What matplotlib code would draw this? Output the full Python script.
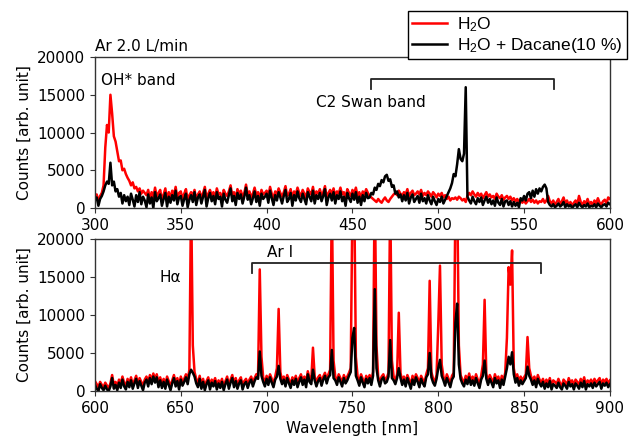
import numpy as np
import matplotlib
matplotlib.use("Agg")
import matplotlib.pyplot as plt

# ---------------- data (counts in units of 100) ----------------
top_wl = np.arange(300, 601)  # nm, 1 nm step
top_h2o = [
    15, 18, 8, 16, 20, 30, 80, 110, 100, 150,
    125, 95, 88, 75, 62, 63, 50, 52, 45, 40,
    36, 30, 34, 26, 28, 22, 26, 19, 23, 20,
    17, 24, 12, 21, 14, 27, 15, 20, 24, 10,
    18, 26, 10, 21, 13, 23, 17, 28, 13, 20,
    22, 12, 19, 25, 10, 17, 21, 16, 24, 11,
    18, 22, 13, 20, 28, 12, 19, 24, 17, 21,
    13, 26, 18, 20, 10, 24, 19, 16, 22, 30,
    16, 21, 12, 25, 19, 23, 15, 20, 31, 18,
    22, 14, 19, 27, 17, 21, 11, 24, 18, 20,
    23, 15, 28, 19, 13, 22, 18, 26, 20, 15,
    21, 29, 16, 19, 25, 12, 22, 18, 27, 20,
    16, 24, 19, 14, 26, 21, 18, 28, 15, 22,
    19, 25, 17, 21, 29, 13, 20, 24, 18, 26,
    15, 22, 19, 27, 18, 21, 12, 25, 20, 16,
    24, 19, 27, 16, 21, 13, 22, 18, 25, 20,
    16, 14, 12, 10, 8, 12, 9, 7, 11, 14,
    10, 8, 12, 15, 18, 20, 17, 23, 19, 16,
    21, 18, 25, 16, 20, 23, 17, 19, 22, 18,
    24, 16, 20, 17, 22, 19, 15, 21, 18, 14,
    19, 16, 20, 14, 17, 12, 15, 10, 13, 12,
    14, 11, 15, 13, 10, 12, 8, 16, 20, 17,
    22, 18, 15, 20, 16, 19, 13, 17, 21, 15,
    18, 14, 16, 12, 19, 15, 13, 17, 11, 14,
    16, 12, 15, 10, 13, 9, 12, 8, 11, 7,
    10, 6, 9, 12, 8, 11, 7, 10, 6, 9,
    8, 12, 7, 10, 16, 9, 6, 10, 4, 8,
    12, 5, 9, 14, 6, 10, 4, 8, 3, 7,
    10, 5, 16, 8, 4, 9, 6, 12, 5, 8,
    4, 10, 6, 13, 7, 5, 9, 11, 6, 14,
    12,
]
top_mix = [
    10, 14, 3, 12, 16, 22, 30, 35, 32, 60,
    30, 35, 22, 25, 15, 20, 6, 17, 9, 15,
    4, 19, 11, 2, 17, 8, 21, 5, 15, 10,
    1, 18, 6, 14, 0, 21, 9, 13, 18, 3,
    12, 20, 2, 15, 7, 17, 10, 23, 5, 14,
    16, 3, 12, 19, 1, 11, 17, 8, 21, 4,
    14, 18, 6, 15, 24, 2, 13, 20, 9, 16,
    5, 21, 12, 15, 2, 19, 11, 7, 17, 26,
    9, 16, 4, 20, 12, 18, 6, 15, 27, 11,
    17, 5, 13, 22, 8, 16, 3, 19, 12, 15,
    19, 7, 23, 13, 4, 17, 10, 21, 14, 6,
    16, 24, 8, 12, 20, 3, 17, 10, 22, 13,
    8, 19, 12, 5, 21, 15, 9, 23, 6, 17,
    12, 20, 9, 16, 25, 4, 14, 19, 10, 21,
    6, 17, 12, 22, 9, 15, 3, 20, 13, 8,
    19, 11, 21, 7, 15, 4, 17, 9, 20, 13,
    14, 20, 18, 27, 24, 32, 29, 37, 34, 42,
    44, 36, 38, 28, 30, 19, 22, 14, 18, 9,
    17, 10, 20, 6, 14, 18, 8, 12, 16, 7,
    19, 9, 13, 6, 17, 10, 5, 15, 9, 4,
    12, 8, 15, 6, 11, 16, 21, 26, 33, 45,
    42, 58, 78, 65, 62, 72, 160, 15, 10, 6,
    15, 9, 5, 13, 8, 14, 4, 10, 15, 7,
    12, 5, 10, 3, 14, 7, 4, 12, 2, 9,
    10, 4, 9, 2, 8, 3, 7, 1, 13, 10,
    16, 10, 19, 21, 13, 23, 15, 25, 19, 26,
    22, 28, 31, 26, 8, 4, 2, 5, 1, 3,
    6, 2, 4, 8, 1, 5, 2, 4, 0, 3,
    5, 1, 7, 3, 1, 4, 2, 6, 1, 3,
    2, 5, 1, 6, 3, 1, 4, 5, 2, 7,
    5,
]

bot_wl = np.arange(600, 901)
bot_h2o = [
    13, 9, 5, 12, 8, 5, 11, 7, 4, 10,
    21, 8, 12, 6, 15, 9, 19, 11, 7, 16,
    10, 18, 8, 14, 20, 9, 17, 12, 7, 15,
    19, 11, 21, 14, 23, 16, 22, 10, 18, 9,
    16, 8, 19, 13, 6, 14, 21, 11, 17, 7,
    19, 12, 16, 22, 14, 28, 260, 60, 25, 16,
    10, 20, 8, 16, 6, 13, 18, 7, 15, 11,
    17, 7, 14, 9, 16, 6, 13, 19, 8, 15,
    21, 10, 17, 8, 14, 18, 7, 13, 16, 9,
    15, 19, 11, 17, 22, 20, 160, 45, 18, 11,
    20, 13, 22, 16, 10, 19, 30, 108, 25, 14,
    19, 11, 21, 15, 9, 18, 13, 20, 10, 17,
    22, 13, 19, 11, 26, 17, 14, 57, 19, 11,
    18, 21, 12, 19, 24, 15, 22, 28, 260, 40,
    19, 13, 22, 17, 11, 21, 15, 19, 24, 30,
    250, 270, 45, 19, 12, 22, 16, 10, 20, 15,
    21, 13, 25, 280, 60, 19, 11, 19, 22, 15,
    17, 24, 260, 40, 19, 14, 22, 103, 24, 13,
    19, 11, 21, 15, 8, 20, 13, 22, 17, 10,
    20, 15, 11, 22, 30, 145, 25, 16, 12, 21,
    87, 165, 35, 19, 12, 22, 16, 10, 20, 24,
    250, 270, 60, 21, 15, 11, 20, 14, 23, 13,
    19, 12, 22, 15, 9, 20, 35, 120, 22, 13,
    21, 16, 10, 22, 15, 19, 9, 20, 13, 24,
    70, 163, 140, 185, 30, 16, 22, 12, 19, 14,
    18, 22, 71, 30, 20, 13, 19, 10, 21, 15,
    11, 16, 8, 15, 10, 17, 7, 14, 12, 9,
    16, 10, 7, 15, 12, 8, 17, 11, 14, 7,
    15, 12, 8, 16, 10, 18, 7, 14, 11, 15,
    9, 16, 11, 14, 17, 8, 15, 12, 16, 10,
    14,
]
bot_mix = [
    8, 3, 0, 9, 4, 1, 7, 2, 0, 6,
    17, 3, 8, 1, 11, 4, 15, 6, 2, 12,
    5, 14, 3, 10, 16, 4, 13, 7, 1, 11,
    15, 6, 17, 9, 19, 11, 18, 5, 14, 4,
    12, 3, 15, 8, 1, 10, 17, 6, 13, 2,
    15, 7, 12, 18, 9, 22, 28, 24, 19, 10,
    5, 16, 3, 12, 1, 9, 14, 2, 11, 6,
    13, 2, 10, 4, 12, 1, 9, 15, 3, 11,
    17, 5, 13, 3, 10, 14, 2, 9, 12, 4,
    11, 15, 6, 13, 18, 16, 52, 20, 12, 6,
    16, 8, 18, 11, 5, 15, 19, 33, 16, 9,
    15, 6, 17, 10, 4, 14, 8, 16, 5, 12,
    18, 8, 15, 5, 22, 12, 9, 28, 14, 6,
    13, 17, 7, 15, 20, 10, 18, 21, 54, 17,
    14, 8, 18, 12, 6, 17, 10, 14, 20, 25,
    70, 83, 20, 14, 7, 18, 11, 5, 16, 10,
    17, 8, 20, 134, 30, 14, 6, 15, 18, 10,
    12, 19, 67, 17, 14, 9, 17, 30, 17, 8,
    15, 6, 17, 10, 3, 15, 8, 18, 12, 5,
    16, 10, 6, 18, 22, 50, 18, 11, 7, 16,
    30, 41, 20, 14, 7, 17, 11, 5, 15, 19,
    90, 115, 35, 16, 10, 6, 15, 9, 18, 8,
    14, 7, 17, 10, 4, 15, 20, 40, 16, 8,
    16, 11, 5, 17, 10, 14, 4, 15, 8, 19,
    30, 45, 35, 51, 22, 11, 17, 7, 14, 9,
    13, 17, 32, 20, 15, 8, 14, 5, 16, 10,
    6, 12, 3, 10, 5, 13, 2, 9, 7, 4,
    11, 5, 2, 10, 7, 3, 12, 6, 9, 2,
    10, 7, 3, 11, 5, 13, 2, 9, 6, 10,
    4, 11, 6, 9, 12, 3, 10, 7, 11, 5,
    9,
]
SCALE = 100

labels = [r"H$_\mathregular{2}$O", r"H$_\mathregular{2}$O + Dacane(10 %)"]
top_xticks = [300, 350, 400, 450, 500, 550, 600]
bot_xticks = [600, 650, 700, 750, 800, 850, 900]
yticks = [0, 5000, 10000, 15000, 20000]

# bracket annotations: (x_start, x_end, level, tick_bottom)
c2_bracket = (460.7, 567.3, 17100, 15700)
ar_bracket = (691.6, 860.1, 16900, 15500)

# ---------------- figure ----------------
plt.rcParams['font.family'] = ['DejaVu Sans']
plt.rcParams['font.size'] = 11
plt.rcParams['mathtext.default'] = 'regular'

fig = plt.figure(figsize=(6.34, 4.41), dpi=100)
ax1 = fig.add_axes([0.1498, 0.5283, 0.962 - 0.1498, 0.8707 - 0.5283])
ax2 = fig.add_axes([0.1498, 0.1134, 0.962 - 0.1498, 0.458 - 0.1134])

lw = 1.8
l1, = ax1.plot(top_wl, np.array(top_h2o) * SCALE, color='#ff0000', lw=lw, label=labels[0])
l2, = ax1.plot(top_wl, np.array(top_mix) * SCALE, color='black', lw=lw, label=labels[1])
ax2.plot(bot_wl, np.array(bot_h2o) * SCALE, color='#ff0000', lw=lw)
ax2.plot(bot_wl, np.array(bot_mix) * SCALE, color='black', lw=lw)

for ax, xt in ((ax1, top_xticks), (ax2, bot_xticks)):
    ax.set_xlim(xt[0], xt[-1])
    ax.set_ylim(0, 20000)
    ax.set_xticks(xt)
    ax.set_yticks(yticks)
    ax.set_ylabel("Counts [arb. unit]")
    for s in ax.spines.values():
        s.set_color('#333333')
        s.set_linewidth(1.0)
    ax.tick_params(color='#333333', labelsize=11)

ax1.set_title("Ar 2.0 L/min", loc='left', fontsize=11, pad=4)
ax2.set_xlabel("Wavelength [nm]")

# brackets
for ax, (xa, xb, lev, low) in ((ax1, c2_bracket), (ax2, ar_bracket)):
    ax.plot([xa, xa, xb, xb], [low, lev, lev, low], color='#222222', lw=1.3)

ax1.text(303.5, 16950, "OH* band", ha='left', va='center', fontsize=11)
ax1.text(429, 13950, "C2 Swan band", ha='left', va='center', fontsize=11)
ax2.text(644, 15000, "H\u03b1", ha='center', va='center', fontsize=11)
ax2.text(700, 18200, "Ar I", ha='left', va='center', fontsize=11)

leg = fig.legend(handles=[l1, l2], labels=labels, loc='upper right',
                 bbox_to_anchor=(627 / 634, 1 - 11 / 441), borderaxespad=0,
                 fancybox=False, edgecolor='black', framealpha=1,
                 prop={'family': 'Liberation Sans', 'size': 12.5},
                 handlelength=2.0, labelspacing=0.1, handletextpad=0.6,
                 borderpad=0.25)
leg.get_frame().set_linewidth(1.0)

fig.savefig("out.png", dpi=100)
